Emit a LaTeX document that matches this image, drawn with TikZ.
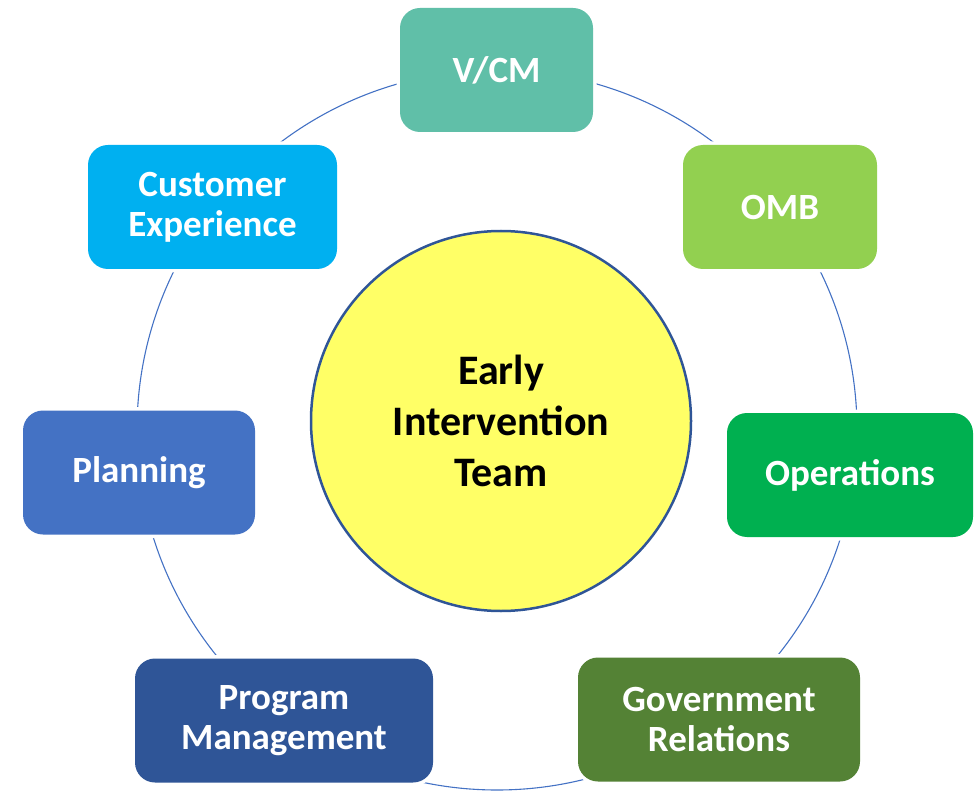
\documentclass[tikz,border=0pt]{standalone}
\usepackage{fontspec}
\setmainfont{Carlito}
\definecolor{vcmcol}{HTML}{60BFA8}
\definecolor{ombcol}{HTML}{92D050}
\definecolor{opscol}{HTML}{00B050}
\definecolor{custcol}{HTML}{00B0F0}
\definecolor{plancol}{HTML}{4472C4}
\definecolor{progcol}{HTML}{2F5597}
\definecolor{govcol}{HTML}{548235}
\definecolor{teamcol}{HTML}{FFFF66}
\definecolor{ringcol}{HTML}{4472C4}
\tikzstyle{box} = [rectangle, rounded corners=20pt, minimum height=124pt, inner sep=0pt,
  text=white, align=center, font=\bfseries\fontsize{37}{40}\selectfont,
  preaction={draw=white, line width=7pt}]
\tikzstyle{ring} = [draw=ringcol, line width=1.1pt]

\begin{document}
\begin{tikzpicture}[x=1pt, y=-1pt]
    \useasboundingbox (0,0) rectangle (974,791);

    % ring behind the boxes
    \coordinate (ringc) at (497,430);
    \draw [ring] (ringc) circle [radius=360pt];

    \node (team) [circle, draw=progcol, line width=2.5pt, fill=teamcol, minimum size=380pt,
      inner sep=0pt, align=center, font=\bfseries\fontsize{42}{51}\selectfont]
      at (501,421) {Early\\Intervention\\Team};

    \node (vcm) [box, fill=vcmcol, minimum width=193pt] at (496.5,70) {V/CM};
    \node (omb) [box, fill=ombcol, minimum width=194pt] at (780,207) {OMB};
    \node (ops) [box, fill=opscol, minimum width=246pt] at (850,475) {Operations};
    \node (gov) [box, fill=govcol, minimum width=282pt] at (719,719.5) {Government\\Relations};
    \node (prog) [box, fill=progcol, minimum width=298pt] at (284,720.5) {Program\\Management};
    \node (plan) [box, fill=plancol, minimum width=232pt] at (139,472.5) {Planning};
    \node (cust) [box, fill=custcol, minimum width=249pt] at (212.5,207) {Customer\\Experience};

\end{tikzpicture}
\end{document}
